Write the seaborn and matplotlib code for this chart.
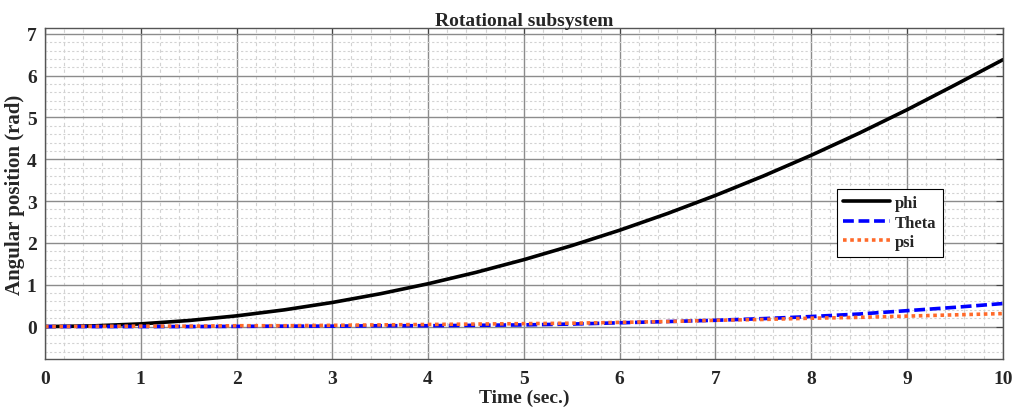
import numpy as np
import pandas as pd
import matplotlib
matplotlib.use("Agg")
import matplotlib.pyplot as plt
from matplotlib.ticker import MultipleLocator
import seaborn as sns

time = [0, 0.5, 1, 1.5, 2, 2.5, 3, 3.5, 4, 4.5, 5, 5.5, 6, 6.5, 7, 7.5, 8, 8.5, 9, 9.5, 10]
phi = [0, 0.016, 0.064, 0.144, 0.256, 0.40, 0.576, 0.784, 1.024, 1.296, 1.60, 1.936,
       2.304, 2.704, 3.136, 3.60, 4.096, 4.624, 5.184, 5.776, 6.38]
theta = [0, 0, 0, 0, 0.005, 0.01, 0.01, 0.02, 0.02, 0.03, 0.04, 0.06, 0.09, 0.12,
         0.15, 0.19, 0.24, 0.30, 0.38, 0.46, 0.55]
psi = [0, 0.005, 0.01, 0.01, 0.02, 0.02, 0.03, 0.04, 0.05, 0.06, 0.07, 0.08, 0.10,
       0.12, 0.15, 0.17, 0.20, 0.22, 0.25, 0.28, 0.31]
labels = ["phi", "Theta", "psi"]

sns.set_style("white")
plt.rcParams['font.family'] = ['Liberation Serif', 'DejaVu Serif']
plt.rcParams['font.weight'] = 'bold'

fig = plt.figure(figsize=(10.16, 4.14), dpi=100)
ax = fig.add_axes([0.0443, 0.130, 0.9427, 0.800])

sns.lineplot(x=time, y=phi, ax=ax, color='black', lw=2.6, label=labels[0])
sns.lineplot(x=time, y=theta, ax=ax, color='#0000ff', lw=2.6, label=labels[1])
sns.lineplot(x=time, y=psi, ax=ax, color='#ff6a2a', lw=2.6, label=labels[2])
ax.lines[1].set_dashes([3, 1.3])
ax.lines[2].set_dashes([1, 1])

ax.set_xlim(0, 10)
ax.set_ylim(-0.78, 7.14)
ax.xaxis.set_major_locator(MultipleLocator(1))
ax.yaxis.set_major_locator(MultipleLocator(1))
ax.xaxis.set_minor_locator(MultipleLocator(0.2))
ax.yaxis.set_minor_locator(MultipleLocator(0.2))
ax.grid(which='major', color='#8c8c8c', lw=1.0, ls='-')
ax.xaxis.grid(which='minor', color='#d2d2d2', lw=0.8, ls=(0, (3, 3)))
ax.yaxis.grid(which='minor', color='#d2d2d2', lw=0.8, ls=(0, (2, 2)))
ax.set_axisbelow(True)
ax.tick_params(which='both', direction='in', top=True, right=True, labelsize=14)
ax.tick_params(which='major', length=5, width=0.8, color='#444444', pad=8)
ax.tick_params(axis='y', which='major', pad=6)
ax.tick_params(which='minor', length=0)
for lab in ax.get_xticklabels() + ax.get_yticklabels():
    lab.set_fontweight('bold')
for s in ax.spines.values():
    s.set_color('#555555')
    s.set_linewidth(1.0)

ax.set_title("Rotational subsystem", fontsize=14, fontweight='bold', pad=2)
ax.set_xlabel("Time (sec.)", fontsize=14, fontweight='bold', labelpad=1)
ax.set_ylabel("Angular position (rad)", fontsize=15, fontweight='bold', labelpad=1)

leg = ax.legend(loc='upper left', bbox_to_anchor=(0.818, 0.54), frameon=True,
                fancybox=False, edgecolor='black', framealpha=1,
                prop={'weight': 'bold', 'size': 12}, handlelength=2.8,
                handletextpad=0.3, borderpad=0.4, labelspacing=0.2)
leg.get_frame().set_linewidth(0.8)

fig.savefig("out.png", dpi=100)
